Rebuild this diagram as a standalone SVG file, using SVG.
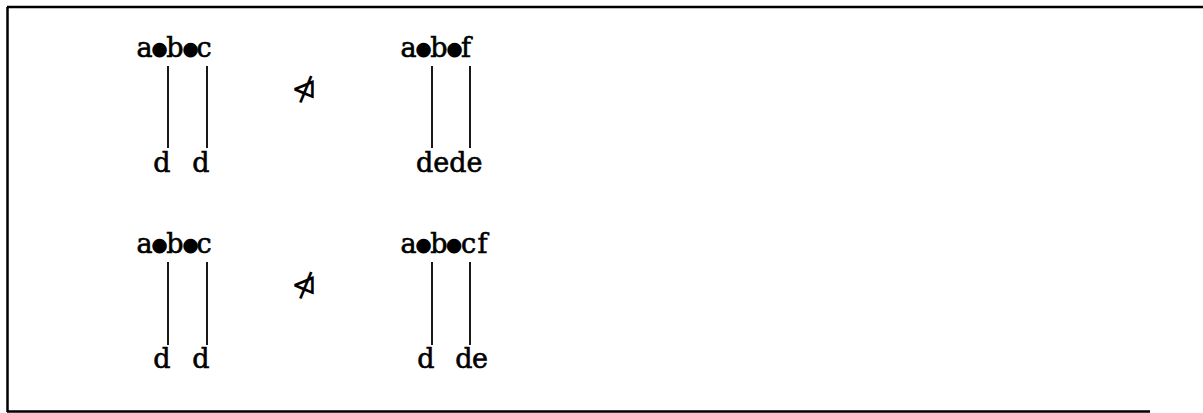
<svg xmlns="http://www.w3.org/2000/svg" width="1203" height="413" viewBox="0 0 1203 413">
<style>
.t{font-family:"DejaVu Serif","Liberation Serif",serif;font-size:27px;fill:#000;stroke:#000;stroke-width:0.6;text-anchor:middle}
.s{text-anchor:start}
.bl{font-family:"DejaVu Sans",sans-serif;font-size:19px;stroke:none}
.ln{stroke:#000;stroke-width:1.8;fill:none}
.sym{font-family:"DejaVu Sans",sans-serif;font-size:31px;fill:#000;text-anchor:middle}
.fr{stroke:#000;stroke-width:2.5;fill:none}
</style>
<rect width="1203" height="413" fill="#fff"/>
<g id="frame">
<path class="fr" d="M7,7 H1203 M7.5,7 V412 M7,411.5 H1150"/>
</g>
<g id="r1-left-top"><text class="t"><tspan x="144.5" y="57">a</tspan><tspan class="bl" x="159.5" y="55">●</tspan><tspan x="175" y="57">b</tspan><tspan class="bl" x="190.5" y="55">●</tspan><tspan x="204" y="57">c</tspan></text></g>
<g id="r1-left-bottom"><text class="t"><tspan x="162" y="172">d</tspan><tspan x="201" y="172">d</tspan></text></g>
<g id="r1-sym"><text class="sym" x="304" y="99">⋪</text></g>
<g id="r1-right-top"><text class="t"><tspan x="408.5" y="57">a</tspan><tspan class="bl" x="423.5" y="55">●</tspan><tspan x="439" y="57">b</tspan><tspan class="bl" x="454.5" y="55">●</tspan><tspan x="466" y="57">f</tspan></text></g>
<g id="r1-right-bottom"><text class="t s" x="416" y="172">dede</text></g>
<g id="r2-left-top"><text class="t"><tspan x="144.5" y="253">a</tspan><tspan class="bl" x="159.5" y="251">●</tspan><tspan x="175" y="253">b</tspan><tspan class="bl" x="190.5" y="251">●</tspan><tspan x="204" y="253">c</tspan></text></g>
<g id="r2-left-bottom"><text class="t"><tspan x="162" y="368">d</tspan><tspan x="201" y="368">d</tspan></text></g>
<g id="r2-sym"><text class="sym" x="304" y="295">⋪</text></g>
<g id="r2-right-top"><text class="t"><tspan x="408.5" y="253">a</tspan><tspan class="bl" x="423.5" y="251">●</tspan><tspan x="439" y="253">b</tspan><tspan class="bl" x="454" y="251">●</tspan><tspan x="468.5" y="253">c</tspan><tspan x="482.5" y="253">f</tspan></text></g>
<g id="r2-right-bottom"><text class="t"><tspan x="426" y="368">d</tspan><tspan x="464" y="368">d</tspan><tspan x="480" y="368">e</tspan></text></g>
<g id="connectors">
<path class="ln" d="M168,66 V148 M207,66 V148 M432,66 V148 M470,66 V148"/>
<path class="ln" d="M168,262 V345 M207,262 V345 M432,262 V345 M470,262 V345"/>
</g>
</svg>
